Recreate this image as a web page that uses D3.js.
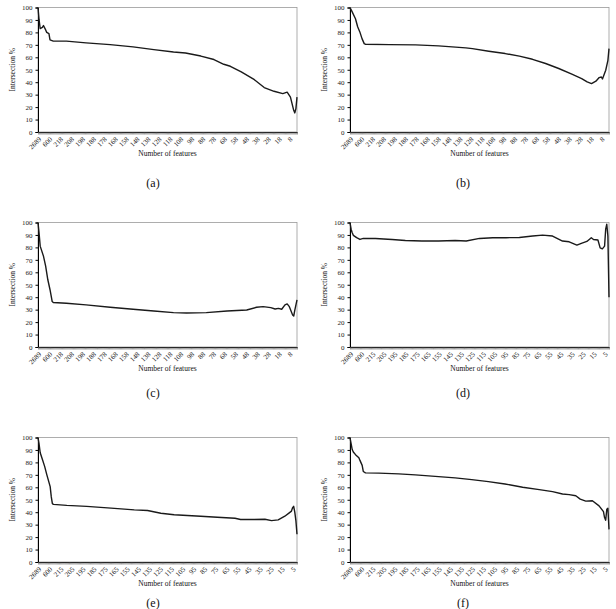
<!DOCTYPE html>
<html>
<head>
<meta charset="utf-8">
<script src="https://cdn.jsdelivr.net/npm/d3@7"></script>
<style>
  body { margin: 0; background: #fff; }
  svg { display: block; }
  svg text { font-family: "Liberation Serif", "Times New Roman", "DejaVu Serif", serif; }
</style>
</head>
<body>
<div id="chart"></div>
<script>
/*
Six panels: intersection % against number of features
*/

// Category axis: coarse steps first, then one by one down to 1
const HEAD = [2689, 2400, 2100, 1800, 1500, 1300, 1100, 900, 750, 650,
              600, 500, 450, 400, 350, 300, 270, 250, 235, 225];
const CATS_218 = HEAD.concat(d3.range(218, 0, -1)); // labels 2689, 600, 218, 208 ... 8
const CATS_215 = HEAD.concat(d3.range(215, 0, -1)); // labels 2689, 600, 215, 205 ... 5

const Y_TICKS = [0, 10, 20, 30, 40, 50, 60, 70, 80, 90, 100];

// Series (features -> intersection %)
const A_FEATURES = [2689, 2400, 2100, 1500, 1300, 900, 750, 600, 500, 350, 212, 194, 172, 151, 132, 114, 103, 89, 77, 68, 62, 52, 40, 31, 22, 14, 10, 7, 4, 3, 2, 1];
const A_VALUES = [100, 90, 83, 84, 85.5, 82, 80, 79, 74, 73, 73, 71.6, 70.2, 68.4, 66.2, 64.3, 63.5, 61, 58.2, 54.4, 52.8, 48.3, 42, 35.7, 32.7, 30.8, 32, 28, 17.4, 15.3, 18.8, 28];

const B_FEATURES = [2689, 2100, 1300, 900, 650, 500, 400, 350, 202, 178, 157, 132, 126, 111, 96, 83, 71, 59, 47, 35, 26, 21, 17, 13, 10, 8, 7, 4, 2, 1];
const B_VALUES = [100, 96.5, 91, 84.5, 80.4, 75, 71, 70.5, 70.2, 70, 69.2, 67.6, 67, 64.9, 63, 60.9, 58.4, 55, 51, 46.4, 42.9, 40.2, 38.9, 40.8, 43.7, 44.2, 42.6, 49.6, 57.6, 67];

const C_FEATURES = [2689, 2400, 2100, 1300, 900, 650, 500, 400, 350, 212, 194, 172, 151, 132, 114, 102, 84, 65, 47, 38, 32, 25, 21, 18, 15, 12, 10, 8, 5, 4, 3, 1];
const C_VALUES = [100, 91.4, 81, 73, 64.9, 54, 46, 36.5, 35.7, 35.1, 33.8, 31.9, 30.3, 28.9, 27.6, 27.3, 27.6, 28.9, 29.7, 31.9, 32.4, 31.6, 30.5, 31, 30.3, 33.8, 34.6, 32.4, 25.7, 24.9, 29.7, 37.8];

const D_FEATURES = [2689, 2400, 2100, 1800, 1100, 650, 450, 212, 197, 185, 170, 155, 140, 130, 118, 106, 94, 82, 70, 61, 52, 43, 37, 30, 26, 21, 17, 15, 11, 9, 7, 5, 4, 3, 2, 1];
const D_VALUES = [100, 94.6, 91.8, 89.7, 87.8, 86.4, 87.2, 87.2, 86.4, 85.6, 85.1, 85.1, 85.6, 85.1, 87.2, 87.8, 87.8, 88, 89.1, 89.9, 89.1, 85.1, 84.5, 81.8, 83.2, 84.8, 87.8, 86.4, 85.9, 79.6, 78.8, 81, 94.6, 98.6, 89, 40];

const E_FEATURES = [2689, 2400, 2100, 1500, 1100, 750, 500, 450, 400, 350, 209, 191, 169, 148, 136, 124, 112, 100, 88, 73, 57, 52, 40, 30, 24, 18, 12, 8, 6, 5, 4, 3, 2, 1];
const E_VALUES = [100, 94.6, 87.7, 82.3, 76.8, 70, 60.5, 52.3, 46.9, 46.3, 45.5, 44.7, 43.3, 41.9, 41.4, 39.2, 37.9, 37.3, 36.8, 36, 35.1, 34.1, 34.1, 34.3, 33.2, 33.8, 36.8, 39.5, 40.9, 43.6, 44.7, 40, 33.2, 22.3];

const F_FEATURES = [2689, 2400, 2100, 1800, 1300, 750, 650, 500, 450, 350, 209, 191, 176, 155, 140, 125, 110, 95, 79, 64, 52, 43, 37, 31, 27, 22, 16, 10, 6, 5, 4, 3, 2, 1];
const F_VALUES = [100, 95.1, 90.3, 88.4, 86.2, 83.8, 81.6, 77.6, 72.7, 71.6, 71.4, 70.8, 70, 68.6, 67.6, 66.2, 64.6, 62.7, 60, 58.1, 56.5, 54.6, 54.1, 53.2, 50.5, 48.9, 49.2, 45.1, 40.5, 35.7, 33.5, 42.4, 43.2, 26.2];

const PANELS = [
  { caption: "(a)", cats: CATS_218, f: A_FEATURES, v: A_VALUES },
  { caption: "(b)", cats: CATS_218, f: B_FEATURES, v: B_VALUES },
  { caption: "(c)", cats: CATS_218, f: C_FEATURES, v: C_VALUES },
  { caption: "(d)", cats: CATS_215, f: D_FEATURES, v: D_VALUES },
  { caption: "(e)", cats: CATS_215, f: E_FEATURES, v: E_VALUES },
  { caption: "(f)", cats: CATS_215, f: F_FEATURES, v: F_VALUES },
];

// Layout
const WIDTH = 616, HEIGHT = 609;
const COL_X = [38, 350];           // plot left edge per column
const ROW_Y = [7.5, 222.5, 437.5]; // plot top edge per row
const PLOT_W = 259, PLOT_H = 124.5;
const CAPTION_X = [153, 463];
const CAPTION_Y = [187, 397, 607];
const TICK_FONT = 7;
const SERIF = "'Liberation Serif', 'Times New Roman', serif";

const svg = d3.select("#chart").append("svg")
  .attr("width", WIDTH)
  .attr("height", HEIGHT);

svg.append("rect").attr("width", WIDTH).attr("height", HEIGHT).attr("fill", "#fff");

PANELS.forEach((p, i) => {
  const col = i % 2, row = Math.floor(i / 2);
  const g = svg.append("g")
    .attr("transform", `translate(${COL_X[col]},${ROW_Y[row]})`);

  const x = d3.scalePoint().domain(p.cats).range([0, PLOT_W]);
  const y = d3.scaleLinear().domain([0, 100]).range([PLOT_H, 0]);

  // plot area frame (grey)
  g.append("rect")
    .attr("width", PLOT_W)
    .attr("height", PLOT_H)
    .attr("fill", "none")
    .attr("stroke", "#9a9a9a")
    .attr("stroke-width", 0.8);

  // y axis
  const yAxis = g.append("g")
    .call(d3.axisLeft(y).tickValues(Y_TICKS).tickSize(2.5).tickPadding(3));
  yAxis.select(".domain").attr("stroke", "#000");
  yAxis.selectAll("line").attr("stroke", "#000");
  yAxis.selectAll("text")
    .style("font-family", SERIF)
    .style("font-size", TICK_FONT + "px")
    .attr("fill", "#222");

  // x axis: a tick for every category (comb), labels drawn below
  const xAxis = g.append("g")
    .attr("transform", `translate(0,${PLOT_H})`)
    .call(d3.axisBottom(x).tickSize(2.5).tickSizeOuter(0).tickFormat(""));
  xAxis.select(".domain").attr("stroke", "#000");
  xAxis.selectAll("line").attr("stroke", "#555").attr("stroke-width", 0.6);

  // every 10th category gets a slanted label
  const labels = p.cats.filter((d, k) => k % 10 === 0);
  g.append("g")
    .selectAll("text")
    .data(labels)
    .join("text")
    .attr("transform", (d) => `translate(${x(d) + 2},${PLOT_H + 6}) rotate(-45)`)
    .attr("dy", "0.35em")
    .attr("text-anchor", "end")
    .style("font-family", SERIF)
    .style("font-size", TICK_FONT + "px")
    .attr("fill", "#222")
    .text((d) => d);

  // series line
  const pts = p.f.map((f, k) => ({ f, v: p.v[k] }));
  const line = d3.line()
    .x((d) => x(d.f))
    .y((d) => y(d.v));

  g.append("path")
    .datum(pts)
    .attr("fill", "none")
    .attr("stroke", "#1a1a1a")
    .attr("stroke-width", 1.4)
    .attr("stroke-linejoin", "round")
    .attr("d", line);

  // axis titles
  g.append("text")
    .attr("x", PLOT_W / 2)
    .attr("y", PLOT_H + 24)
    .attr("text-anchor", "middle")
    .style("font-family", SERIF)
    .style("font-size", "7.5px")
    .attr("fill", "#111")
    .text("Number of features");

  g.append("text")
    .attr("transform", `translate(${-23},${PLOT_H / 2}) rotate(-90)`)
    .attr("text-anchor", "middle")
    .style("font-family", SERIF)
    .style("font-size", "7.5px")
    .attr("fill", "#111")
    .text("Intersection %");

  // caption
  svg.append("text")
    .attr("x", CAPTION_X[col])
    .attr("y", CAPTION_Y[row])
    .attr("text-anchor", "middle")
    .style("font-family", SERIF)
    .style("font-size", "12px")
    .attr("fill", "#111")
    .text(p.caption);
});
</script>
</body>
</html>
